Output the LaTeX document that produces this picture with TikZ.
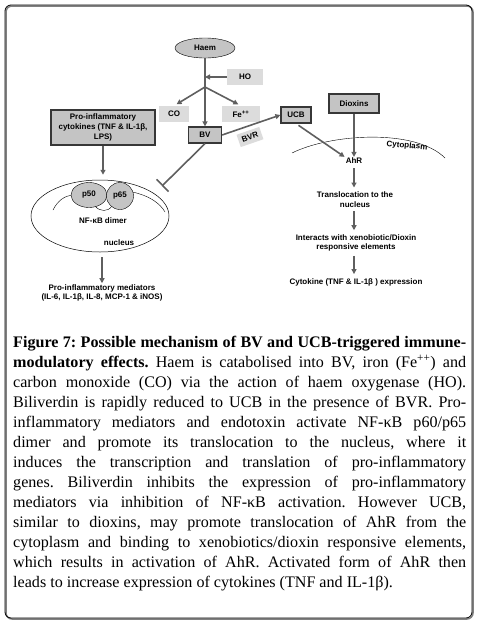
\documentclass[tikz,border=0pt]{standalone}
\usepackage{fontspec}
\setmainfont{Liberation Serif}
\newfontfamily\labelfont{Liberation Sans}
\usepackage{xcolor}
\usepackage{tikz}
\usetikzlibrary{
	arrows.meta,
	calc,
	positioning,
	shapes.geometric
}
\definecolor{BoxGray}{RGB}{196,196,196}
\definecolor{PaleGray}{RGB}{220,220,220}
\definecolor{ArrowGray}{RGB}{95,95,95}
\definecolor{EdgeGray}{RGB}{55,55,55}
\tolerance=10000
\hyphenpenalty=10000
\frenchspacing
\tikzset{
	lbl/.style={font=\labelfont\bfseries\fontsize{8}{9.7}\selectfont, align=center, inner sep=1pt},
	darkbox/.style={lbl, draw=EdgeGray, line width=1.2pt, fill=BoxGray, minimum height=16pt},
	palebox/.style={lbl, fill=PaleGray, minimum height=16pt},
	arr/.style={-{Triangle[length=5pt,width=5pt]}, ArrowGray, line width=1.6pt}
}

\begin{document}
\begin{tikzpicture}[x=1pt, y=-1pt]
		\useasboundingbox (0,0) rectangle (479,624);
		
		% frame
		\draw[gray, line width=1.5pt, rounded corners=6pt] (6,6) rectangle (473,619);
		\draw[line width=0.8pt, rounded corners=6pt] (5,5) rectangle (472,618);
		
		% haem branch
		\node[lbl, ellipse, draw, fill=BoxGray, minimum width=60pt, minimum height=20pt] (haem) at (205,48) {Haem};
		\node[palebox, minimum width=36pt] (HO) at (245,77) {HO};
		\node[palebox, minimum width=30pt] (CO) at (174,114) {CO};
		\node[palebox, minimum width=38pt] (Fe) at (241,114) {Fe\textsuperscript{++}};
		\node[darkbox, minimum width=33pt] (BV) at (205,135) {BV};
		\node[darkbox, minimum width=30pt] (UCB) at (296,115) {UCB};
		\node[palebox, rotate=19, minimum width=24pt, minimum height=13pt] (BVR) at (250,137) {BVR};
		\coordinate (fork) at (205,87);
		\coordinate (hoin) at (205,77);
		
		\draw[arr] (haem) -- (BV);
		\draw[arr] (HO) -- (hoin);
		\draw[arr, shorten >=3pt] (fork) -- (CO.north);
		\draw[arr, shorten >=3pt] (fork) -- (Fe.north);
		\draw[arr] (BV.east) -- (UCB.west);
		
		% BV blocks NF-kB
		\coordinate (block) at (162,186);
		\draw[ArrowGray, line width=1.6pt, -{Bar[width=17pt,line width=1.6pt]}] (BV.south) -- (block);
		
		% nucleus
		\node[draw, ellipse, line width=0.5pt, minimum width=138pt, minimum height=72pt] (nucleus) at (100,216) {};
		\draw (53,210) .. controls (58,200) and (65,196) .. (72,195);
		\draw (132,192) .. controls (148,195) and (160,203) .. (165,212);
		\draw (95,206) .. controls (100,212) and (108,212) .. (112,206);
		\node[lbl, ellipse, draw, fill=BoxGray, minimum width=36pt, minimum height=25pt] (p50) at (89,195) {p50};
		\node[lbl, circle, draw, fill=BoxGray, minimum size=27pt] (p65) at (120,196) {p65};
		\node[lbl] (dimer) at (103,221) {NF-κB dimer};
		\node[lbl] (nuctext) at (119,243) {nucleus};
		
		\node[darkbox, minimum width=104pt, minimum height=35pt] (cytok) at (103,127.5) {Pro-inflammatory\\cytokines (TNF \& IL-1β,\\LPS)};
		\node[lbl] (mediators) at (102,293) {Pro-inflammatory mediators\\(IL-6, IL-1β, IL-8, MCP-1 \& iNOS)};
		\draw[arr, shorten >=5pt] (cytok.south) -- (cytok.south |- nucleus.north);
		\draw[arr, shorten <=5pt] (mediators.north |- nucleus.south) -- (mediators.north);
		
		% AhR pathway
		\draw (292,153) .. controls (330,134) and (415,128) .. (445,158);
		\node[lbl, rotate=-5] (cyto) at (407,146) {Cytoplasm};
		\node[darkbox, minimum width=50pt, minimum height=19pt] (dioxins) at (354,103.5) {Dioxins};
		\node[lbl] (AhR) at (354,161) {AhR};
		\node[lbl] (transloc) at (355,199.5) {Translocation to the\\nucleus};
		\node[lbl] (interacts) at (356,243) {Interacts with xenobiotic/Dioxin\\responsive elements};
		\node[lbl] (cytexp) at (356,282) {Cytokine (TNF \& IL-1β ) expression};
		
		\draw[arr] (dioxins) -- (AhR);
		\draw[arr, shorten <=3pt] (UCB.south) -- (AhR.north west);
		\draw[arr, shorten <=3pt, shorten >=3pt] (AhR.south) -- (AhR.south |- transloc.north);
		\draw[arr, shorten <=3pt, shorten >=3pt] (AhR.south |- transloc.south) -- (AhR.south |- interacts.north);
		\draw[arr, shorten <=3pt, shorten >=3pt] (AhR.south |- interacts.south) -- (AhR.south |- cytexp.north);
		
		% caption
		\node[anchor=north west, text width=453pt, align=justify, inner sep=0pt,
			font=\fontsize{16.1}{20}\selectfont] (caption) at (13,336)
			{\textbf{Figure 7: Possible mechanism of BV and UCB-triggered immune-\linebreak
			modulatory effects.} Haem is catabolised into BV, iron (Fe\textsuperscript{++}) and\linebreak
			carbon monoxide (CO) via the action of haem oxygenase (HO).\linebreak
			Biliverdin is rapidly reduced to UCB in the presence of BVR. Pro-\linebreak
			inflammatory mediators and endotoxin activate NF-κB p60/p65\linebreak
			dimer and promote its translocation to the nucleus, where it\linebreak
			induces the transcription and translation of pro-inflammatory\linebreak
			genes. Biliverdin inhibits the expression of pro-inflammatory\linebreak
			mediators via inhibition of NF-κB activation. However UCB,\linebreak
			similar to dioxins, may promote translocation of AhR from the\linebreak
			cytoplasm and binding to xenobiotics/dioxin responsive elements,\linebreak
			which results in activation of AhR. Activated form of AhR then\linebreak
			leads to increase expression of cytokines (TNF and IL-1β).};
	\end{tikzpicture}
\end{document}
